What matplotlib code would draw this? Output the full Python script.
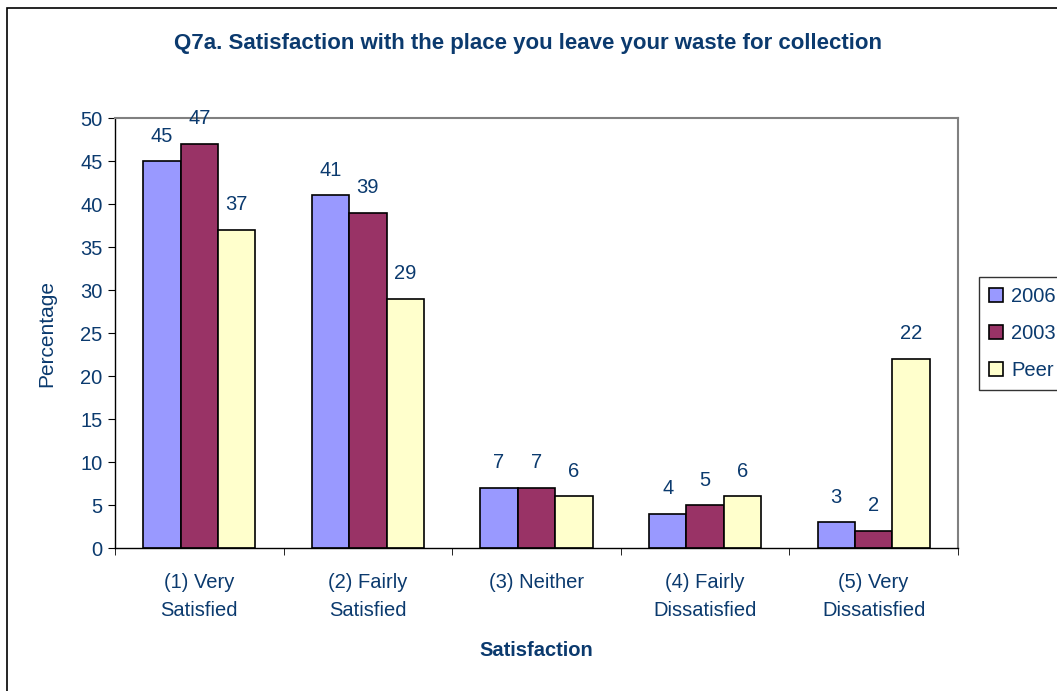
import numpy as np
import matplotlib as mpl
mpl.use("Agg")
import matplotlib.pyplot as plt
from matplotlib.patches import Rectangle

plt.rcParams['font.family'] = ['Liberation Sans', 'DejaVu Sans']

categories = ['(1) Very\nSatisfied', '(2) Fairly\nSatisfied', '(3) Neither',
              '(4) Fairly\nDissatisfied', '(5) Very\nDissatisfied']
series_names = ['2006', '2003', 'Peer']
vals_2006 = [45, 41, 7, 4, 3]
vals_2003 = [47, 39, 7, 5, 2]
vals_peer = [37, 29, 6, 6, 22]
colors = ['#9999FF', '#993366', '#FFFFCC']
txt = '#0B3A6E'

fig = plt.figure(figsize=(10.57, 6.91), dpi=100)
# outer chart border, runs off the right and bottom edge
fig.patches.append(Rectangle((7 / 1057, -0.1), 1.2, 1.1 - 8 / 691, transform=fig.transFigure,
                             fill=False, edgecolor='black', linewidth=1.2))
ax = fig.add_axes([0.1088, 0.2069, 0.7975, 0.6223])

x = np.arange(len(categories))
w = 0.222
for k, (name, vals) in enumerate(zip(series_names, [vals_2006, vals_2003, vals_peer])):
    pos = x + (k - 1) * w
    ax.bar(pos, vals, width=w, color=colors[k], edgecolor='black', linewidth=1.2, label=name)
    for p, v in zip(pos, vals):
        ax.text(p, v + 1.8, str(v), ha='center', va='bottom', fontsize=14.5, color=txt)

ax.set_xlim(-0.5, 4.5)
ax.set_ylim(0, 50)
ax.set_yticks(range(0, 51, 5))
ax.set_xticks(x)
ax.set_xticklabels(categories, fontsize=14.5, color=txt, linespacing=1.6)
ax.set_xticks(np.arange(-0.5, 5, 1), minor=True)
ax.tick_params(axis='x', which='major', length=0, pad=18)
ax.tick_params(axis='x', which='minor', length=5, direction='out')
ax.tick_params(axis='y', length=5, direction='out', labelsize=14.5, labelcolor=txt, pad=4)
for s in ['top', 'right']:
    ax.spines[s].set_color('#808080')
    ax.spines[s].set_linewidth(1.5)
for s in ['left', 'bottom']:
    ax.spines[s].set_color('black')
    ax.spines[s].set_linewidth(1)

ax.set_ylabel('Percentage', fontsize=15, color=txt, labelpad=17)
ax.set_xlabel('Satisfaction', fontsize=14.5, fontweight='bold', color=txt, labelpad=15)
fig.text(0.5, 0.937, 'Q7a. Satisfaction with the place you leave your waste for collection',
         ha='center', va='center', fontsize=16, fontweight='bold', color=txt)

leg = ax.legend(loc='upper left', bbox_to_anchor=(979 / 1057, 1 - 277 / 691),
                bbox_transform=fig.transFigure, frameon=True, fancybox=False,
                fontsize=14.5, handlelength=0.7, handleheight=0.7, handletextpad=0.4,
                labelspacing=0.9, borderpad=0.5, borderaxespad=0)
leg.get_frame().set_edgecolor('black')
leg.get_frame().set_linewidth(1)
for t in leg.get_texts():
    t.set_color(txt)

fig.savefig('out.png', dpi=100)
